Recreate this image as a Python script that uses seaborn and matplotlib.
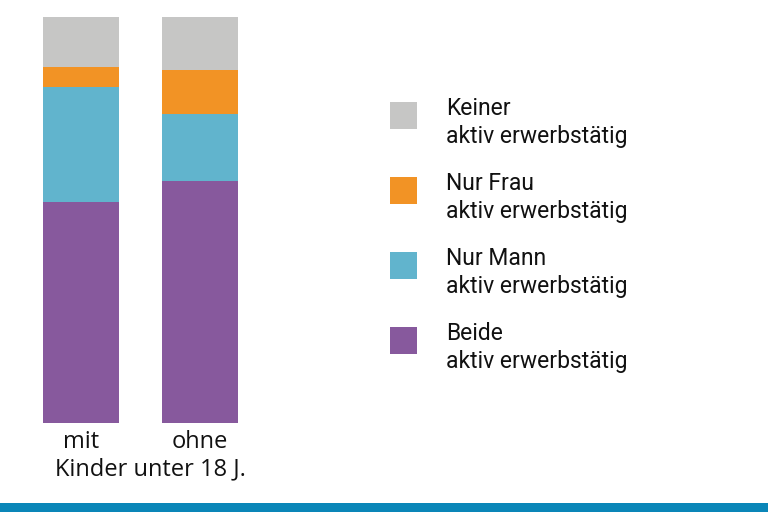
import pandas as pd
import seaborn as sns
import matplotlib.pyplot as plt
from matplotlib.patches import Patch, Rectangle
from matplotlib.legend_handler import HandlerPatch

# values in percent
groups = ['mit', 'ohne']
beide = [54.5, 59.6]
nur_mann = [28.3, 16.5]
nur_frau = [5.0, 10.8]
keiner = [12.2, 13.1]

labels = ['Keiner\naktiv erwerbstätig', 'Nur Frau\naktiv erwerbstätig',
          'Nur Mann\naktiv erwerbstätig', 'Beide\naktiv erwerbstätig']
colors = ['#c6c6c5', '#f29325', '#61b4cd', '#87599d']

df = pd.DataFrame({'gruppe': groups, 'beide': beide, 'nur_mann': nur_mann,
                   'nur_frau': nur_frau, 'keiner': keiner})
# cumulative heights for stacking (drawn from top layer down)
df['c_beide'] = df['beide']
df['c_mann'] = df['c_beide'] + df['nur_mann']
df['c_frau'] = df['c_mann'] + df['nur_frau']
df['c_keiner'] = df['c_frau'] + df['keiner']

sns.set_style('white')
plt.rcParams['font.family'] = ['Open Sans', 'DejaVu Sans']

fig = plt.figure(figsize=(7.68, 5.12), dpi=100)
ax = fig.add_axes([21.5 / 768, 89 / 512, 238 / 768, 406 / 512])

for col, c in zip(['c_keiner', 'c_frau', 'c_mann', 'c_beide'], colors):
    sns.barplot(data=df, x='gruppe', y=col, color=c, width=0.64,
                saturation=1, ax=ax, edgecolor='none')

ax.set_xlim(-0.5, 1.5)
ax.set_ylim(0, 100)
ax.set_yticks([])
ax.set_ylabel('')
ax.set_xlabel('Kinder unter 18 J.', fontsize=17, labelpad=3, color='#111111')
ax.xaxis.set_label_coords(0.54, -0.085)
ax.tick_params(axis='x', length=0, labelsize=17, pad=5, colors='#111111')
sns.despine(ax=ax, left=True, bottom=True)


# square a bit higher so it sits centred on the two text lines
def raised_square(legend, orig_handle, xdescent, ydescent, width, height, fontsize):
    return Rectangle((-xdescent, -ydescent + 6), width, height)


handles = [Patch(facecolor=c, edgecolor='none') for c in colors]
leg = fig.legend(handles, labels, loc='upper left', bbox_to_anchor=(369 / 768, 1 - 76 / 512),
                 frameon=False, handlelength=1.18, handleheight=1.45,
                 handletextpad=1.27, labelspacing=1.03,
                 handler_map={Patch: HandlerPatch(patch_func=raised_square)},
                 prop={'family': ['Roboto', 'DejaVu Sans'], 'size': 16.5})
for t in leg.get_texts():
    t.set_color('#111111')
    t.set_linespacing(1.3)

# blue band at the bottom
band = fig.add_axes([0, 0, 1, 9 / 512])
band.set_facecolor('#0a86b8')
band.set_xticks([])
band.set_yticks([])
for s in band.spines.values():
    s.set_visible(False)

fig.savefig('out.png', dpi=100)
